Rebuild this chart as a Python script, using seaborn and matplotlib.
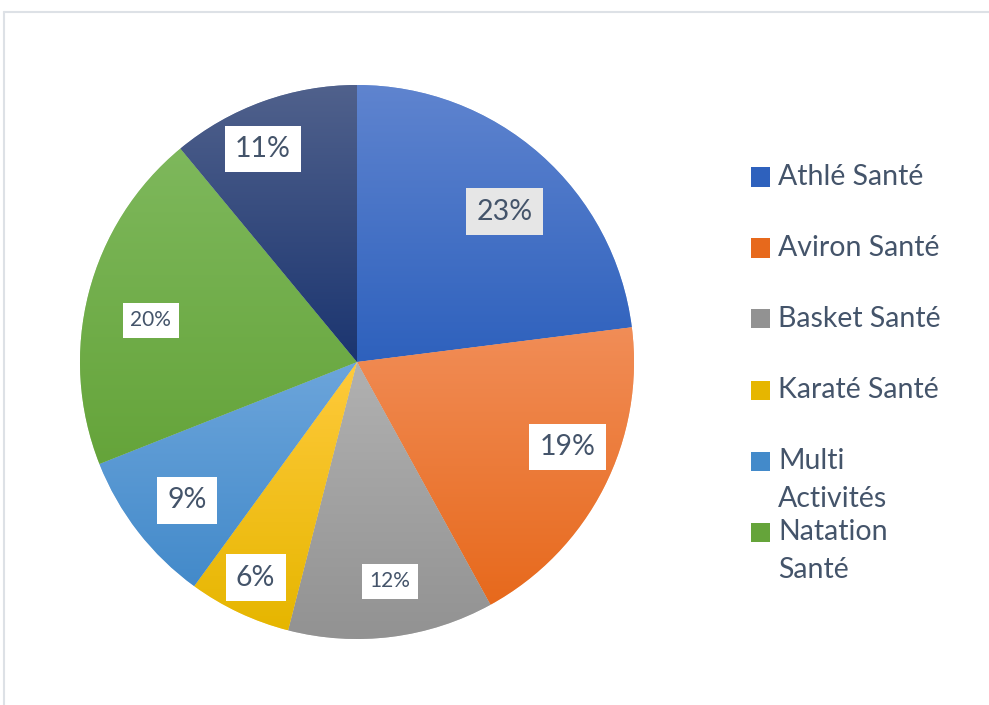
import numpy as np
import matplotlib
matplotlib.use("Agg")
import matplotlib.pyplot as plt
import matplotlib.colors as mcolors
from matplotlib.patches import Rectangle
from matplotlib.lines import Line2D
import seaborn as sns

# données du graphique
categories = ["Athlé Santé", "Aviron Santé", "Basket Santé", "Karaté Santé",
              "Multi Activités", "Natation Santé", "Autres"]
parts = [23, 19, 12, 6, 9, 20, 11]
legend_labels = ["Athlé Santé", "Aviron Santé", "Basket Santé", "Karaté Santé",
                 "Multi\nActivités", "Natation\nSanté"]

# style (couleurs haut / bas du dégradé de chaque part)
top_colors = ["#5F84CF", "#F18D57", "#B1B1B1", "#FFCA3C", "#6CA5DB", "#7EB85C", "#50618C"]
bottom_colors = ["#2E61BD", "#E7691C", "#929292", "#E6B600", "#438ACA", "#65A43A", "#1B3570"]
label_sizes = [20.5, 20.5, 15, 20.5, 20.5, 15, 20.5]
label_dist = [0.76, 0.82, 0.80, 0.86, 0.79, 0.76, 0.84]
label_shift = [-3, 5, 1.3, 0, 1.4, 3, 4]   # décalage angulaire des étiquettes (degrés)
text_color = "#44546A"

sns.set_theme(style="white")
plt.rcParams["font.family"] = ["Lato", "DejaVu Sans"]

W, H = 989, 705
fig = plt.figure(figsize=(W / 100, H / 100), dpi=100)
cx, cy, r = 357, 362, 277
ax = fig.add_axes([(cx - r) / W, (H - cy - r) / H, 2 * r / W, 2 * r / H])

wedges, _ = ax.pie(parts, startangle=90, counterclock=False, radius=1,
                   colors=bottom_colors,
                   wedgeprops=dict(edgecolor=(1, 1, 1, 0.5), linewidth=0.6))

# dégradé vertical dans chaque part
for w, c0, c1 in zip(wedges, top_colors, bottom_colors):
    bb = w.get_path().get_extents()
    a = np.array(mcolors.to_rgb(c0))
    b = np.array(mcolors.to_rgb(c1))
    t = np.linspace(0, 1, 256)[:, None]
    grad = (a * (1 - t) + b * t)[:, None, :]
    im = ax.imshow(grad, extent=[bb.x0, bb.x1, bb.y0, bb.y1], origin="upper",
                   aspect="auto", interpolation="bilinear", zorder=1.5)
    im.set_clip_path(w)

# étiquettes de pourcentage
for i, (w, p) in enumerate(zip(wedges, parts)):
    ang = np.deg2rad((w.theta1 + w.theta2) / 2 + label_shift[i])
    x, y = label_dist[i] * np.cos(ang), label_dist[i] * np.sin(ang)
    fc = "#E6E6E6" if i == 0 else "white"
    ax.text(x, y, f"{p}%", ha="center", va="center", fontsize=label_sizes[i],
            color=text_color, zorder=3,
            bbox=dict(boxstyle="square,pad=0.36", fc=fc, ec="none"))

ax.set_xlim(-1, 1)
ax.set_ylim(-1, 1)
ax.set_aspect("equal")
ax.axis("off")

# légende (tronquée comme dans l'original)
y0, step = 177, 71
for i, lab in enumerate(legend_labels):
    yy = y0 + i * step
    fig.patches.append(Rectangle((751 / W, 1 - (yy + 9.5) / H), 19 / W, 19 / H,
                                 transform=fig.transFigure, figure=fig,
                                 facecolor=bottom_colors[i], edgecolor="none"))
    fig.text(778 / W, 1 - (yy - 13) / H, lab, ha="left", va="top", fontsize=20.5,
             color=text_color, linespacing=1.55)

# cadre gris clair
fig.add_artist(Line2D([4 / W, 1], [1 - 12 / H, 1 - 12 / H], color="#DDE1E6", lw=1.5))
fig.add_artist(Line2D([4 / W, 4 / W], [0, 1 - 12 / H], color="#DDE1E6", lw=1.5))

fig.savefig("out.png", dpi=100)
